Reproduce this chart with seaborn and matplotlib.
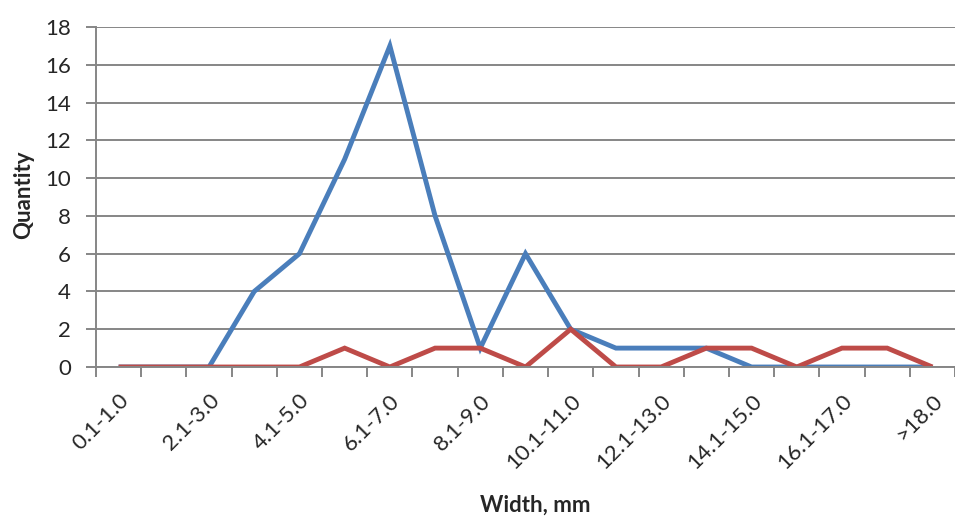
import matplotlib
matplotlib.use("Agg")
import matplotlib.pyplot as plt
from matplotlib.transforms import ScaledTranslation
import seaborn as sns
import pandas as pd
import numpy as np

# width classes, mm
categories = ['0.1-1.0', '1.1-2.0', '2.1-3.0', '3.1-4.0', '4.1-5.0', '5.1-6.0',
              '6.1-7.0', '7.1-8.0', '8.1-9.0', '9.1-10.0', '10.1-11.0', '11.1-12.0',
              '12.1-13.0', '13.1-14.0', '14.1-15.0', '15.1-16.0', '16.1-17.0',
              '17.1-18.0', '>18.0']
series_1 = [0, 0, 0, 4, 6, 11, 17, 8, 1, 6, 2, 1, 1, 1, 0, 0, 0, 0, 0]
series_2 = [0, 0, 0, 0, 0, 1, 0, 1, 1, 0, 2, 0, 0, 1, 1, 0, 1, 1, 0]
y_ticks = [0, 2, 4, 6, 8, 10, 12, 14, 16, 18]

n = len(categories)
data = pd.DataFrame({
    'idx': list(range(n)) * 2,
    'quantity': series_1 + series_2,
    'series': ['1'] * n + ['2'] * n,
})

sns.set_style("white")
plt.rcParams['font.family'] = ['Lato', 'DejaVu Sans']

fig = plt.figure(figsize=(9.55, 5.16), dpi=100)
ax = fig.add_axes([96 / 955, 149 / 516, (955 - 96) / 955, 340 / 516])

sns.lineplot(data=data, x='idx', y='quantity', hue='series',
             palette={'1': '#4A7EBB', '2': '#BE4B48'},
             linewidth=3.5, legend=False, ax=ax,
             solid_joinstyle='miter', solid_capstyle='butt')

ax.set_xlim(-0.5, n - 0.5 - 9 / 45.7)
ax.set_ylim(0, 18)
ax.set_yticks(y_ticks)
ax.yaxis.grid(True, color='#868686', linewidth=1.4)
ax.set_axisbelow(True)

# ticks at category boundaries, labels on every other category
ax.set_xticks(np.arange(n + 1) - 0.5)
ax.set_xticklabels([])
ax.set_xticks(np.arange(0, n, 2), minor=True)
ax.set_xticklabels(categories[::2], minor=True, rotation=45, ha='right',
                   va='center', rotation_mode='anchor', fontsize=16)
ax.tick_params(axis='x', which='major', length=7, width=1.4, color='#868686',
               direction='out', bottom=True)
ax.tick_params(axis='x', which='minor', length=0, pad=22)
ax.tick_params(axis='y', length=7, width=1.4, color='#868686', direction='out',
               left=True, labelsize=16, pad=11)
for lbl in ax.get_xticklabels(minor=True):
    lbl.set_transform(lbl.get_transform() + ScaledTranslation(5 / 72, 0, fig.dpi_scale_trans))

for s in ['top', 'right']:
    ax.spines[s].set_visible(False)
for s in ['left', 'bottom']:
    ax.spines[s].set_color('#868686')
    ax.spines[s].set_linewidth(1.4)

ax.set_xlabel('Width, mm', fontsize=16, fontweight='bold', va='center')
ax.set_ylabel('Quantity', fontsize=16, fontweight='bold', va='center')
ax.xaxis.set_label_coords(535 / 955, 11 / 516, transform=fig.transFigure)
ax.yaxis.set_label_coords(24 / 955, 321 / 516, transform=fig.transFigure)

fig.savefig('out.png', dpi=100)
